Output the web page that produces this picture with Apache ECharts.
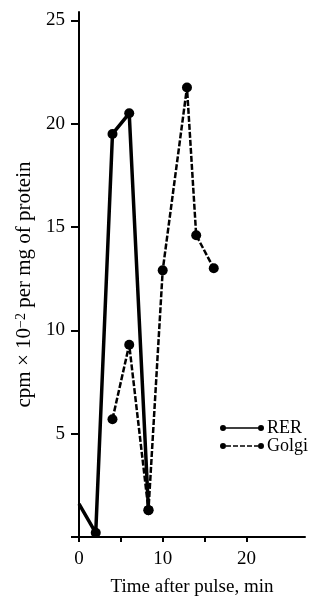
<!DOCTYPE html>
<html>
<head>
<meta charset="utf-8">
<script src="https://cdn.jsdelivr.net/npm/echarts@6/dist/echarts.min.js"></script>
<style>
  html, body { margin: 0; padding: 0; background: #fff; }
  #chart { width: 322px; height: 602px; }
</style>
</head>
<body>
<div id="chart"></div>
<script>
// values
const rerTime = [0, 2, 4, 6, 8.3]
const rerCpm = [1.6, 0.2, 19.5, 20.5, 1.3]
const golgiTime = [4, 6, 8.3, 10, 12.9, 14, 16.1]
const golgiCpm = [5.7, 9.3, 1.3, 12.9, 21.75, 14.6, 13.0]

const xTicks = [0, 5, 10, 15, 20]
const xLabels = [0, 10, 20]
const yTicks = [0, 5, 10, 15, 20, 25]
const yLabels = [5, 10, 15, 20, 25]

const serif = 'Liberation Serif'

// legend icons: line between two dots (solid / dashed)
const dot = (cx) => 'M' + (cx - 3) + ',3 A3,3 0 1,1 ' + (cx + 3) + ',3 A3,3 0 1,1 ' + (cx - 3) + ',3 Z '
const bar = (a, b) => 'M' + a + ',2.3 L' + b + ',2.3 L' + b + ',3.7 L' + a + ',3.7 Z '
const rerIcon = 'path://' + dot(3) + bar(3, 41) + dot(41)
const golgiIcon = 'path://' + dot(3) + bar(6, 11) + bar(13, 18) + bar(20, 25) + bar(27, 32) + bar(34, 38) + dot(41)

const rerData = rerTime.map((t, i) => {
  // first point sits on the y axis, no dot drawn there
  if (i === 0) return { value: [t, rerCpm[i]], symbol: 'none' }
  return [t, rerCpm[i]]
})
const golgiData = golgiTime.map((t, i) => [t, golgiCpm[i]])

const chart = echarts.init(document.getElementById('chart'))
chart.setOption({
  animation: false,
  backgroundColor: '#fff',
  textStyle: { fontFamily: serif, color: '#000' },
  grid: { left: 79, right: 17, top: 12, bottom: 63 },
  legend: {
    orient: 'vertical',
    left: 215,
    top: 414,
    itemWidth: 44,
    itemHeight: 6,
    itemGap: 0,
    itemStyle: { borderWidth: 0 },
    textStyle: { fontFamily: serif, fontSize: 18, color: '#000', lineHeight: 15, padding: [0, 0, 0, -2] },
    data: [
      { name: 'RER', icon: rerIcon },
      { name: 'Golgi', icon: golgiIcon }
    ]
  },
  xAxis: {
    type: 'value',
    min: 0,
    max: 27,
    name: 'Time after pulse, min',
    nameLocation: 'middle',
    nameGap: 41,
    nameTextStyle: { fontFamily: serif, fontSize: 19, color: '#000' },
    splitLine: { show: false },
    axisLine: { show: true, onZero: false, lineStyle: { color: '#000', width: 2 } },
    axisTick: { show: true, length: 5, customValues: xTicks, lineStyle: { color: '#000', width: 2 } },
    axisLabel: { customValues: xLabels, margin: 13, fontFamily: serif, fontSize: 19, color: '#000' }
  },
  yAxis: {
    type: 'value',
    min: 0,
    max: 25.4,
    name: 'cpm × 10{sup|−2} per mg of protein',
    nameLocation: 'middle',
    nameRotate: 90,
    nameGap: 42,
    nameTextStyle: {
      fontFamily: serif,
      fontSize: 21,
      color: '#000',
      padding: [0, 20, 0, 0],
      rich: { sup: { fontFamily: serif, fontSize: 14, verticalAlign: 'top', color: '#000' } }
    },
    splitLine: { show: false },
    axisLine: { show: true, onZero: false, lineStyle: { color: '#000', width: 2 } },
    axisTick: { show: true, length: 8, customValues: yTicks, lineStyle: { color: '#000', width: 2 } },
    axisLabel: { customValues: yLabels, margin: 14, fontFamily: serif, fontSize: 19, color: '#000' }
  },
  series: [
    {
      name: 'RER',
      type: 'line',
      data: rerData,
      symbol: 'circle',
      symbolSize: 10,
      color: '#000',
      itemStyle: { color: '#000' },
      lineStyle: { color: '#000', width: 3.5 }
    },
    {
      name: 'Golgi',
      type: 'line',
      data: golgiData,
      symbol: 'circle',
      symbolSize: 10,
      color: '#000',
      itemStyle: { color: '#000' },
      lineStyle: { color: '#000', width: 2.5, type: [6, 2] }
    }
  ]
})
</script>
</body>
</html>
